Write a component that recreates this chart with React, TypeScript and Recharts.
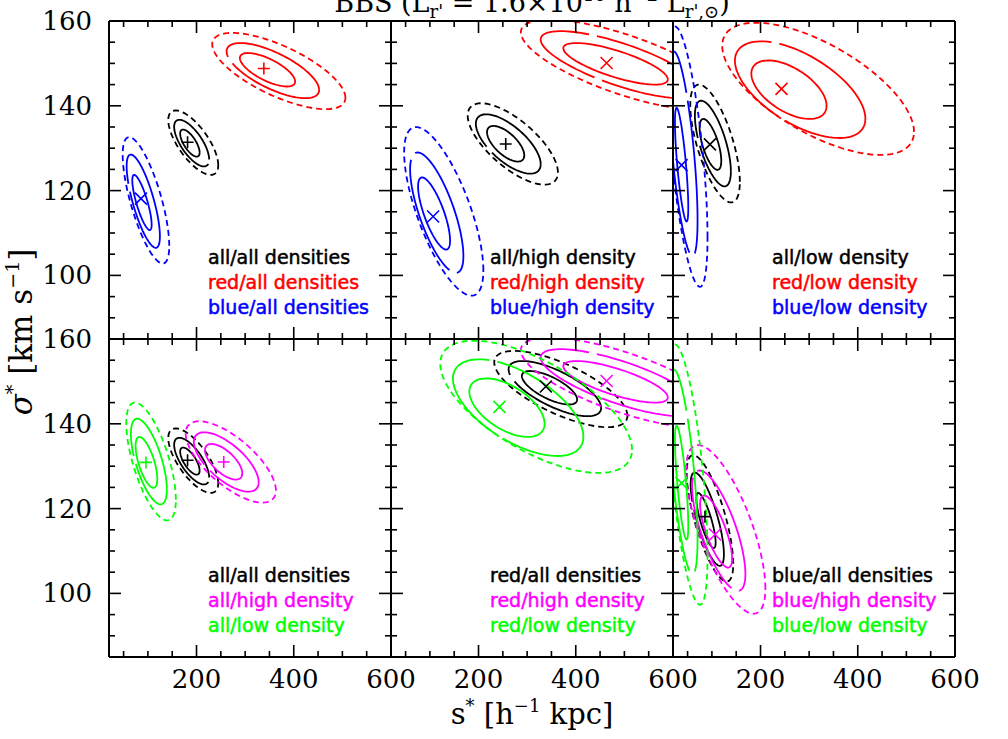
import React from 'react';
import { ComposedChart, Line, Scatter, XAxis, YAxis } from 'recharts';

// Each contour level: [centre s*, centre sigma*, half-range in s*, half-range in sigma*, correlation]
// levels: inner (1 sigma), middle (2 sigma), outer (3 sigma)
const ALL_ALL = [[186.4, 131.2, 20.0, 3.2, -0.7], [190.0, 131.2, 36.0, 5.5, -0.7], [193.3, 131.3, 51.4, 7.6, -0.7]];
const ALL_ALL_MARK = [181.6, 131.4];
const RED_ALL = [[346.0, 148.5, 56.8, 3.95, -0.7], [357.0, 148.3, 95.2, 6.5, -0.7], [369.3, 148.2, 137.0, 9.0, -0.7]];
const RED_ALL_MARK = [338.5, 148.8];
const BLUE_ALL = [[87.8, 117.2, 19.9, 6.5, -0.8], [90.5, 117.5, 34.2, 11.0, -0.75], [96.0, 117.7, 47.9, 14.9, -0.72]];
const BLUE_ALL_MARK = [85.7, 118.1];
const ALL_HIGH = [[255.8, 131.05, 38.3, 4.2, -0.65], [261.2, 131.0, 66.7, 7.0, -0.68], [270.5, 131.0, 92.8, 9.6, -0.7]];
const ALL_HIGH_MARK = [256.0, 131.0];
const RED_HIGH = [[481.9, 149.9, 107.5, 4.9, -0.75], [492.2, 149.7, 164.4, 7.9, -0.75], [499.0, 149.7, 212.0, 10.6, -0.72]];
const RED_HIGH_MARK = [463.4, 150.1];
const BLUE_HIGH = [[108.6, 114.6, 32.9, 8.5, -0.75], [114.1, 114.8, 54.8, 14.2, -0.72], [128.5, 115.1, 81.5, 19.9, -0.7]];
const BLUE_HIGH_MARK = [106.6, 113.9];
const ALL_LOW = [[97.0, 130.9, 22.3, 6.0, -0.65], [102.0, 131.1, 37.0, 10.1, -0.65], [106.5, 131.1, 51.0, 13.9, -0.65]];
const ALL_LOW_MARK = [96.0, 130.9];
const RED_LOW = [[258.5, 143.8, 77.4, 6.9, -0.55], [281.5, 143.8, 134.2, 11.4, -0.6], [318.5, 144.0, 197.3, 15.6, -0.65]];
const RED_LOW_MARK = [243.1, 144.0];
const BLUE_LOW = [[37.7, 126.1, 13.7, 13.4, -0.75], [41.0, 128.7, 29.5, 24.1, -0.65], [49.7, 128.0, 41.3, 30.7, -0.62]];
const BLUE_LOW_MARK = [37.6, 126.0];

// axes
const X_DOMAIN = [20, 600];
const Y_DOMAIN = [85, 160];
const X_TICKS = [50, 100, 150, 200, 250, 300, 350, 400, 450, 500, 550, 600];
const X_MAJOR = [200, 400, 600];
const Y_TICKS = [90, 95, 100, 105, 110, 115, 120, 125, 130, 135, 140, 145, 150, 155, 160];
const Y_MAJOR = [100, 120, 140, 160];

// panel legends
const TOP_LEFT_LABELS = ['all/all densities', 'red/all densities', 'blue/all densities'];
const TOP_MID_LABELS = ['all/high density', 'red/high density', 'blue/high density'];
const TOP_RIGHT_LABELS = ['all/low density', 'red/low density', 'blue/low density'];
const BOT_LEFT_LABELS = ['all/all densities', 'all/high density', 'all/low density'];
const BOT_MID_LABELS = ['red/all densities', 'red/high density', 'red/low density'];
const BOT_RIGHT_LABELS = ['blue/all densities', 'blue/high density', 'blue/low density'];

const BLACK = '#000000';
const RED = '#ff0000';
const BLUE = '#0000ff';
const MAGENTA = '#ff00ff';
const GREEN = '#00ff00';

// layout
const COL_LEFT = [109, 391, 673];
const ROW_TOP = [21, 339];
const PW = 282;
const PH = 318;
const AXL = 100;
const AXR = 40;
const AXT = 20;
const AXB = 60;
const LEVEL_DASH = ['', '120 8', '6 4'];

type Group = { levels: number[][]; mark: number[]; color: string; sym: string };

function ring(c: number[]) {
  const [cx, cy, w, h, r] = c;
  const s = Math.sqrt(1 - r * r);
  const out: { x: number; y: number }[] = [];
  const n = 90;
  for (let k = 0; k <= n; k++) {
    const t = (2 * Math.PI * k) / n;
    out.push({ x: cx + w * Math.cos(t), y: cy + h * (r * Math.cos(t) + s * Math.sin(t)) });
  }
  return out;
}

const PANELS: { col: number; row: number; labels: string[]; groups: Group[] }[] = [
  {
    col: 0, row: 0, labels: TOP_LEFT_LABELS,
    groups: [
      { levels: ALL_ALL, mark: ALL_ALL_MARK, color: BLACK, sym: '+' },
      { levels: RED_ALL, mark: RED_ALL_MARK, color: RED, sym: '+' },
      { levels: BLUE_ALL, mark: BLUE_ALL_MARK, color: BLUE, sym: 'x' },
    ],
  },
  {
    col: 1, row: 0, labels: TOP_MID_LABELS,
    groups: [
      { levels: ALL_HIGH, mark: ALL_HIGH_MARK, color: BLACK, sym: '+' },
      { levels: RED_HIGH, mark: RED_HIGH_MARK, color: RED, sym: 'x' },
      { levels: BLUE_HIGH, mark: BLUE_HIGH_MARK, color: BLUE, sym: 'x' },
    ],
  },
  {
    col: 2, row: 0, labels: TOP_RIGHT_LABELS,
    groups: [
      { levels: ALL_LOW, mark: ALL_LOW_MARK, color: BLACK, sym: 'x' },
      { levels: RED_LOW, mark: RED_LOW_MARK, color: RED, sym: 'x' },
      { levels: BLUE_LOW, mark: BLUE_LOW_MARK, color: BLUE, sym: 'x' },
    ],
  },
  {
    col: 0, row: 1, labels: BOT_LEFT_LABELS,
    groups: [
      { levels: ALL_ALL, mark: ALL_ALL_MARK, color: BLACK, sym: '+' },
      { levels: ALL_HIGH, mark: ALL_HIGH_MARK, color: MAGENTA, sym: '+' },
      { levels: ALL_LOW, mark: ALL_LOW_MARK, color: GREEN, sym: '+' },
    ],
  },
  {
    col: 1, row: 1, labels: BOT_MID_LABELS,
    groups: [
      { levels: RED_ALL, mark: RED_ALL_MARK, color: BLACK, sym: 'x' },
      { levels: RED_HIGH, mark: RED_HIGH_MARK, color: MAGENTA, sym: 'x' },
      { levels: RED_LOW, mark: RED_LOW_MARK, color: GREEN, sym: 'x' },
    ],
  },
  {
    col: 2, row: 1, labels: BOT_RIGHT_LABELS,
    groups: [
      { levels: BLUE_ALL, mark: BLUE_ALL_MARK, color: BLACK, sym: '+' },
      { levels: BLUE_HIGH, mark: BLUE_HIGH_MARK, color: MAGENTA, sym: 'x' },
      { levels: BLUE_LOW, mark: BLUE_LOW_MARK, color: GREEN, sym: 'x' },
    ],
  },
];

const LEGEND_COLORS = [
  [BLACK, RED, BLUE],
  [BLACK, RED, BLUE],
  [BLACK, RED, BLUE],
  [BLACK, MAGENTA, GREEN],
  [BLACK, MAGENTA, GREEN],
  [BLACK, MAGENTA, GREEN],
];

const TICK_W = 1.6;
const LABEL_FONT = 'DejaVu Serif';

function Panel({ col, row, groups }: { col: number; row: number; groups: Group[] }) {
  const showX = row === 1;
  const showY = col === 0;
  const bottomTick = (p: any) => {
    const v = p.payload.value;
    const major = X_MAJOR.includes(v);
    return (
      <g>
        <line x1={p.x} y1={p.y} x2={p.x} y2={p.y - (major ? 12 : 6)} stroke="#000" strokeWidth={TICK_W} />
        {showX && major && (
          <text x={p.x} y={p.y + 31} textAnchor="middle" fontFamily={LABEL_FONT} fontSize={26} fill="#000">
            {v}
          </text>
        )}
      </g>
    );
  };
  const topTick = (p: any) => {
    const v = p.payload.value;
    const major = X_MAJOR.includes(v);
    return <line x1={p.x} y1={p.y} x2={p.x} y2={p.y + (major ? 12 : 6)} stroke="#000" strokeWidth={TICK_W} />;
  };
  const leftTick = (p: any) => {
    const v = p.payload.value;
    const major = Y_MAJOR.includes(v);
    return (
      <g>
        <line x1={p.x} y1={p.y} x2={p.x + (major ? 12 : 6)} y2={p.y} stroke="#000" strokeWidth={TICK_W} />
        {showY && major && (
          <text x={p.x - 17} y={p.y} textAnchor="end" dominantBaseline="central" fontFamily={LABEL_FONT} fontSize={26} fill="#000">
            {v}
          </text>
        )}
      </g>
    );
  };
  const rightTick = (p: any) => {
    const v = p.payload.value;
    const major = Y_MAJOR.includes(v);
    return <line x1={p.x} y1={p.y} x2={p.x - (major ? 12 : 6)} y2={p.y} stroke="#000" strokeWidth={TICK_W} />;
  };
  const axisLine = { stroke: '#000', strokeWidth: 2 };
  return (
    <div style={{ position: 'absolute', left: COL_LEFT[col] - AXL, top: ROW_TOP[row] - AXT }}>
      <ComposedChart width={AXL + PW + AXR} height={AXT + PH + AXB} margin={{ top: 0, right: 0, bottom: 0, left: 0 }}>
        <XAxis xAxisId="b" orientation="bottom" type="number" dataKey="x" domain={X_DOMAIN} allowDataOverflow ticks={X_TICKS}
          interval={0} tickSize={0} tickMargin={0} tickLine={false} height={AXB} axisLine={axisLine} tick={bottomTick} />
        <XAxis xAxisId="t" orientation="top" type="number" dataKey="x" domain={X_DOMAIN} allowDataOverflow ticks={X_TICKS}
          interval={0} tickSize={0} tickMargin={0} tickLine={false} height={AXT} axisLine={axisLine} tick={topTick} />
        <YAxis yAxisId="l" orientation="left" type="number" dataKey="y" domain={Y_DOMAIN} allowDataOverflow ticks={Y_TICKS}
          interval={0} tickSize={0} tickMargin={0} tickLine={false} width={AXL} axisLine={axisLine} tick={leftTick} />
        <YAxis yAxisId="r" orientation="right" type="number" dataKey="y" domain={Y_DOMAIN} allowDataOverflow ticks={Y_TICKS}
          interval={0} tickSize={0} tickMargin={0} tickLine={false} width={AXR} axisLine={axisLine} tick={rightTick} />
        {groups.map((g, gi) =>
          g.levels.map((lv, li) => (
            <Line
              key={`c${gi}-${li}`}
              xAxisId="b"
              yAxisId="l"
              data={ring(lv)}
              dataKey="y"
              type="linear"
              stroke={g.color}
              strokeWidth={1.8}
              strokeDasharray={LEVEL_DASH[li] || undefined}
              dot={false}
              activeDot={false}
              isAnimationActive={false}
            />
          ))
        )}
        {groups.map((g, gi) => (
          <Scatter
            key={`m${gi}`}
            xAxisId="b"
            yAxisId="l"
            data={[{ x: g.mark[0], y: g.mark[1] }]}
            isAnimationActive={false}
            shape={(p: any) => {
              const s = 6;
              const { cx, cy } = p;
              const d = g.sym === '+'
                ? `M${cx - s},${cy}H${cx + s}M${cx},${cy - s}V${cy + s}`
                : `M${cx - s},${cy - s}L${cx + s},${cy + s}M${cx - s},${cy + s}L${cx + s},${cy - s}`;
              return <path d={d} stroke={g.color} strokeWidth={1.6} fill="none" />;
            }}
          />
        ))}
      </ComposedChart>
    </div>
  );
}

export default function App() {
  return (
    <div style={{ position: 'absolute', left: 0, top: 0, width: 1008, height: 739, background: '#fff', overflow: 'hidden' }}>
      {PANELS.map((p, i) => (
        <Panel key={i} col={p.col} row={p.row} groups={p.groups} />
      ))}
      <svg width={1008} height={739} style={{ position: 'absolute', left: 0, top: 0, pointerEvents: 'none' }}>
        {PANELS.map((p, i) =>
          p.labels.map((t, j) => (
            <text key={`${i}-${j}`} x={COL_LEFT[p.col] + 99} y={ROW_TOP[p.row] + 243 + 25 * j}
              fontFamily="DejaVu Sans" fontSize={19} fill={LEGEND_COLORS[i][j]}
              stroke={LEGEND_COLORS[i][j]} strokeWidth={0.5}>
              {t}
            </text>
          ))
        )}
        <text x={532} y={12} textAnchor="middle" fontFamily={LABEL_FONT} fontSize={27} fill="#000">
          BBS (L<tspan fontSize={18} dy={6}>r'</tspan><tspan dy={-6}> = 1.6×10</tspan><tspan fontSize={18} dy={-11}>10</tspan>
          <tspan dy={11}> h</tspan><tspan fontSize={18} dy={-11}>−2</tspan><tspan dy={11}> L</tspan>
          <tspan fontSize={18} dy={6}>r',⊙</tspan><tspan dy={-6}>)</tspan>
        </text>
        <text x={532} y={724} textAnchor="middle" fontFamily={LABEL_FONT} fontSize={29} fill="#000">
          s<tspan fontSize={18} dy={-12}>*</tspan><tspan dy={12}> [h</tspan><tspan fontSize={18} dy={-12}>−1</tspan>
          <tspan dy={12}> kpc]</tspan>
        </text>
        <text transform="translate(32,332) rotate(-90)" x={0} y={0} textAnchor="middle" fontFamily={LABEL_FONT} fontSize={31} fill="#000">
          <tspan fontStyle="italic">σ</tspan><tspan fontSize={19} dy={-13}>*</tspan><tspan dy={13}> [km s</tspan>
          <tspan fontSize={19} dy={-13}>−1</tspan><tspan dy={13}>]</tspan>
        </text>
      </svg>
    </div>
  );
}
